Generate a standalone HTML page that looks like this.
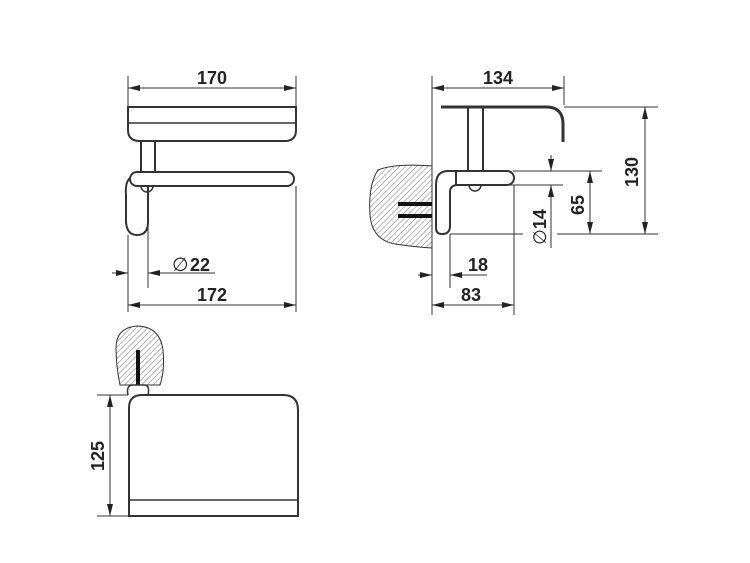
<!DOCTYPE html>
<html><head><style>
html,body{margin:0;padding:0;background:#fff;}
svg{display:block;}
text{font-family:"Liberation Sans",Arial,sans-serif;font-weight:bold;font-size:18px;fill:#222;}
</style></head><body>
<svg width="750" height="563" viewBox="0 0 750 563" xmlns="http://www.w3.org/2000/svg">
<defs>
<marker id="a" viewBox="0 0 12 6" refX="12" refY="3" markerWidth="12" markerHeight="6" orient="auto-start-reverse" markerUnits="userSpaceOnUse"><path d="M0,0 L12,3 L0,6 z" fill="#222"/></marker>
<pattern id="h" width="4" height="4" patternUnits="userSpaceOnUse" patternTransform="rotate(45)"><line x1="0" y1="0" x2="0" y2="4" stroke="#666" stroke-width="0.9"/></pattern>
</defs>
<g stroke="#333" stroke-width="1" fill="none">
<!-- view 1 -->
<line x1="128" y1="76" x2="128" y2="106"/><line x1="296" y1="76" x2="296" y2="106"/>
<line x1="128" y1="88" x2="296" y2="88" marker-start="url(#a)" marker-end="url(#a)"/>
<path d="M128,107 H296 V130 Q296,141 285,141 H140 Q128,141 128,130 Z" stroke-width="2"/>
<line x1="129" y1="123" x2="295" y2="123" stroke-width="1.5"/>
<path d="M141,142 V172 M155,142 V172" stroke-width="2"/>
<path d="M137,172 H287 A7,7 0 0 1 287,186 H137 A7,7 0 0 1 137,172 Z" stroke-width="2"/>
<path d="M130,178 Q125,182 126,195 V222 Q127,235 137,235 Q148,235 148,222 V186" stroke-width="2"/>
<path d="M141,186 A6,6 0 0 0 153,186" stroke-width="1.5"/>
<line x1="128" y1="235" x2="128" y2="312"/><line x1="296" y1="186" x2="296" y2="312"/>
<line x1="148" y1="222" x2="148" y2="288"/>
<line x1="112" y1="273" x2="128" y2="273" marker-end="url(#a)"/>
<line x1="148" y1="273" x2="215" y2="273" marker-start="url(#a)"/>
<line x1="128" y1="305" x2="296" y2="305" marker-start="url(#a)" marker-end="url(#a)"/>
<!-- view 2 -->
<line x1="432" y1="76" x2="432" y2="315"/><line x1="564" y1="76" x2="564" y2="105"/>
<line x1="432" y1="88" x2="564" y2="88" marker-start="url(#a)" marker-end="url(#a)"/>
<path d="M441,107 H548 Q563,108 563,124 V142" stroke-width="3"/>
<path d="M468,108 V171 M483,108 V171" stroke-width="2"/>
<path d="M432,166 Q395,163 378,170 Q368,185 370,215 Q372,240 395,244 Q415,247 432,248 Z" fill="url(#h)" stroke-width="1"/>
<path d="M398,204 H432 M398,216 H432" stroke="#111" stroke-width="4"/>
<path d="M456,171 H507 A7,7 0 0 1 507,185 H456 Z" stroke-width="2"/>
<path d="M456,171 H448 Q436,171 436,185 V228 Q436,234 442,234 Q450,234 450,226 V192 Q450,185 458,185" stroke-width="2"/>
<path d="M469,185 A6,6 0 0 0 481,185" stroke-width="1.5"/>
<line x1="564" y1="107" x2="658" y2="107"/>
<line x1="450" y1="234" x2="523" y2="234"/><line x1="557" y1="234" x2="658" y2="234"/>
<line x1="513" y1="171" x2="602" y2="171"/><line x1="490" y1="185" x2="563" y2="185"/>
<line x1="645" y1="107" x2="645" y2="234" marker-start="url(#a)" marker-end="url(#a)"/>
<line x1="590" y1="171" x2="590" y2="234" marker-start="url(#a)" marker-end="url(#a)"/>
<line x1="551" y1="155" x2="551" y2="171" marker-end="url(#a)"/>
<line x1="551" y1="185" x2="551" y2="248" marker-start="url(#a)"/>
<line x1="514" y1="185" x2="514" y2="315"/><line x1="450" y1="234" x2="450" y2="288"/>
<line x1="418" y1="275" x2="432" y2="275" marker-end="url(#a)"/>
<line x1="450" y1="275" x2="487" y2="275" marker-start="url(#a)"/>
<line x1="432" y1="305" x2="514" y2="305" marker-start="url(#a)" marker-end="url(#a)"/>
<!-- view 3 -->
<path d="M120,385 Q116,365 116,348 Q116,327 138,326 Q160,327 163,350 Q165,370 160,385 Z" fill="url(#h)" stroke-width="1"/>
<line x1="138" y1="350" x2="138" y2="385" stroke="#111" stroke-width="4"/>
<path d="M128,395 Q126,386 132,385 H145 Q150,386 148,395" stroke-width="1.5"/>
<path d="M129,516 V408 Q129,395 142,395 H283 Q298,395 298,410 V516 Z" stroke-width="2"/>
<line x1="129" y1="500" x2="298" y2="500" stroke-width="1.5"/>
<line x1="97" y1="395" x2="128" y2="395"/><line x1="97" y1="516" x2="128" y2="516"/>
<line x1="110" y1="395" x2="110" y2="516" marker-start="url(#a)" marker-end="url(#a)"/>
</g>
<text x="212" y="84" text-anchor="middle">170</text>
<text x="212" y="301" text-anchor="middle">172</text>
<text x="172" y="271" style="font-weight:normal;font-size:19px">∅</text><text x="190" y="271">22</text>
<text x="498" y="84" text-anchor="middle">134</text>
<text x="478" y="271" text-anchor="middle">18</text>
<text x="471" y="301" text-anchor="middle">83</text>
<text transform="translate(638,172) rotate(-90)" text-anchor="middle">130</text>
<text transform="translate(584,205) rotate(-90)" text-anchor="middle">65</text>
<text transform="translate(546,227) rotate(-90)" text-anchor="middle"><tspan style="font-weight:normal">∅</tspan>14</text>
<text transform="translate(104,456) rotate(-90)" text-anchor="middle">125</text>
</svg>
</body></html>
